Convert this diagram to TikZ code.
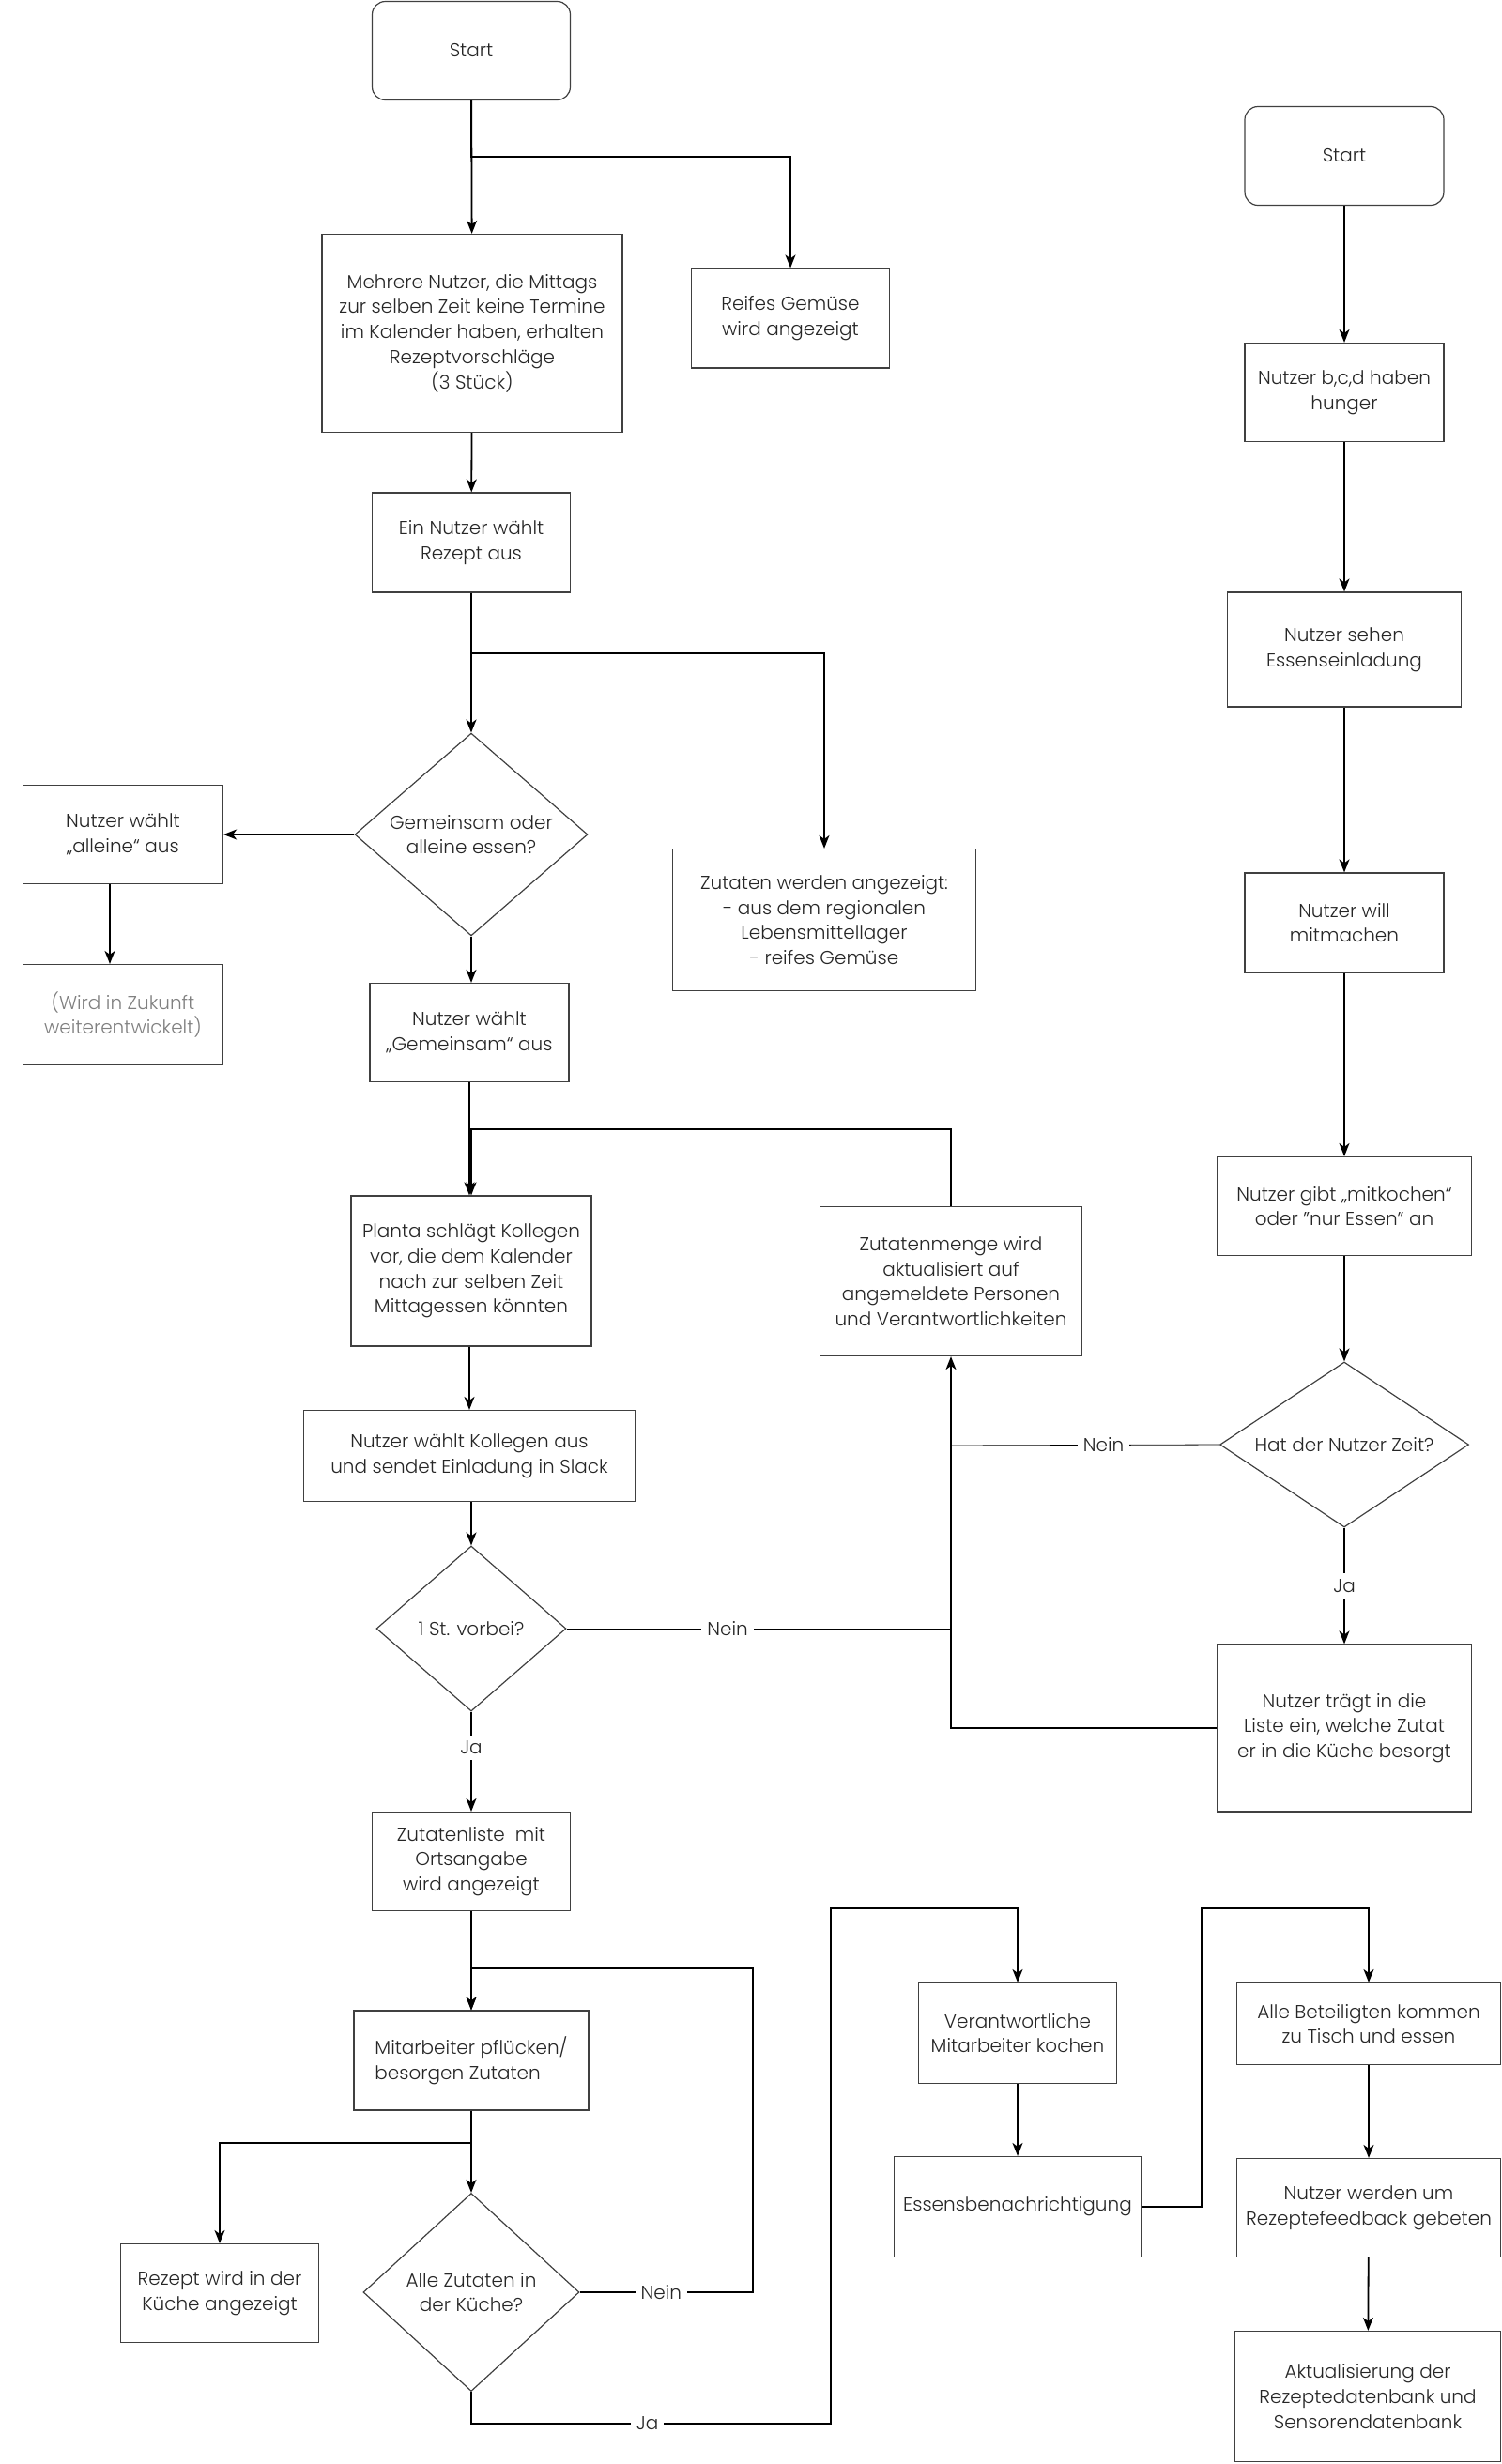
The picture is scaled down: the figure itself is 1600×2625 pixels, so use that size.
\documentclass[tikz,border=0pt]{standalone}
\usepackage{fontspec}
\IfFontExistsTF{Poppins Light}{\setmainfont{Poppins Light}}{\setmainfont{Poppins}}
\usetikzlibrary{shapes.geometric,arrows.meta}

\begin{document}
\begin{tikzpicture}[x=0.5pt,y=-0.5pt,
        font=\fontsize{10}{13.4}\selectfont, text=black!85,
        sz/.style 2 args={minimum width=#1*0.5pt, minimum height=#2*0.5pt},
        box/.style={draw=black!75, line width=0.6pt, align=center, inner sep=2pt},
        start/.style={box, rounded corners=7pt},
        decision/.style={diamond, draw=black!75, line width=0.6pt, align=center, inner sep=0pt},
        arr/.style={-{Stealth[length=7pt,width=5.5pt,inset=2pt]}, line width=0.9pt},
        lbl/.style={fill=white, inner sep=3pt, text=black!85}]
        \useasboundingbox (0,0) rectangle (1600,2625);

        \node[start, sz={211}{105}] (start1) at (502,54) {Start};
        \node[box, sz={320}{211}] (mehr) at (503,355) {Mehrere Nutzer, die Mittags\\zur selben Zeit keine Termine\\im Kalender haben, erhalten\\Rezeptvorschläge\\(3 Stück)};
        \node[box, sz={211}{106}] (reifes) at (842,339) {Reifes Gemüse\\wird angezeigt};
        \node[box, sz={211}{106}] (wahl) at (502,578) {Ein Nutzer wählt\\Rezept aus};
        \node[decision, sz={248}{213}] (gem) at (502,889) {Gemeinsam oder\\alleine essen?};
        \node[box, sz={323}{151}] (zutat) at (878,980) {Zutaten werden angezeigt:\\- aus dem regionalen\\Lebensmittellager\\- reifes Gemüse};
        \node[box, sz={213}{105}] (allein) at (131,889) {Nutzer wählt\\„alleine“ aus};
        \node[box, sz={213}{107}, text=black!50] (zukunft) at (131,1081) {(Wird in Zukunft\\weiterentwickelt)};
        \node[box, sz={212}{105}] (gemsel) at (500,1100) {Nutzer wählt\\„Gemeinsam“ aus};
        \node[box, sz={256}{160}] (planta) at (502,1354) {Planta schlägt Kollegen\\vor, die dem Kalender\\nach zur selben Zeit\\Mittagessen könnten};
        \node[box, sz={279}{159}] (menge) at (1013,1365) {Zutatenmenge wird\\aktualisiert auf\\angemeldete Personen\\und Verantwortlichkeiten};
        \node[box, sz={353}{97}] (kolleg) at (500,1551) {Nutzer wählt Kollegen aus\\und sendet Einladung in Slack};
        \node[decision, sz={202}{176}, shape aspect=1.15] (stunde) at (502,1735) {1 St. vorbei?};
        \node[box, sz={211}{105}] (liste) at (502,1983) {Zutatenliste~ mit\\Ortsangabe\\wird angezeigt};
        \node[box, sz={250}{106}, align=left] (pflueck) at (502,2195) {Mitarbeiter pflücken/\\besorgen Zutaten};
        \node[box, sz={211}{105}] (rezept) at (234,2443) {Rezept wird in der\\Küche angezeigt};
        \node[decision, sz={230}{211}] (alle) at (502,2442) {Alle Zutaten in\\der Küche?};
        \node[box, sz={211}{107}] (koch) at (1084,2166) {Verantwortliche\\Mitarbeiter kochen};
        \node[box, sz={263}{107}] (essen) at (1084,2351) {Essensbenachrichtigung};
        \node[box, sz={281}{87}] (tisch) at (1458,2156) {Alle Beteiligten kommen\\zu Tisch und essen};
        \node[box, sz={281}{105}] (feedback) at (1458,2352) {Nutzer werden um\\Rezeptefeedback gebeten};
        \node[box, sz={283}{139}] (daten) at (1457,2553) {Aktualisierung der\\Rezeptedatenbank und\\Sensorendatenbank};

        \node[start, sz={212}{105}] (start2) at (1432,166) {Start};
        \node[box, sz={212}{105}] (hunger) at (1432,418) {Nutzer b,c,d haben\\hunger};
        \node[box, sz={249}{122}] (einlad) at (1432,692) {Nutzer sehen\\Essenseinladung};
        \node[box, sz={212}{106}] (will) at (1432,983) {Nutzer will\\mitmachen};
        \node[box, sz={271}{105}] (gibt) at (1432,1285) {Nutzer gibt „mitkochen“\\oder "nur Essen" an};
        \node[decision, sz={265}{176}, shape aspect=1.5] (zeit) at (1432,1539) {Hat der Nutzer Zeit?};
        \node[box, sz={271}{178}] (traegt) at (1432,1841) {Nutzer trägt in die\\Liste ein, welche Zutat\\er in die Küche besorgt};

        \coordinate (k1) at (502,167);
        \coordinate (k2) at (502,696);
        \coordinate (k3) at (502,1203);
        \coordinate (k4) at (1012,1735);
        \coordinate (k5) at (1012,1540);
        \coordinate (k6) at (802,2442);
        \coordinate (k7) at (502,2097);
        \coordinate (k8) at (502,2283);
        \coordinate (k9) at (885,2582);
        \coordinate (k10) at (1084,2033);
        \coordinate (k11) at (1280,2351);
        \coordinate (k12) at (1458,2033);

        \draw[arr] (start1) -- (mehr);
        \draw[arr] (start1.south) -- (k1) -| (reifes.north);
        \draw[arr] (mehr) -- (wahl);
        \draw[arr] (wahl) -- (gem);
        \draw[arr] (wahl.south) -- (k2) -| (zutat.north);
        \draw[arr] (gem) -- (allein);
        \draw[arr] ([xshift=-7pt]allein.south) -- ([xshift=-7pt]zukunft.north);
        \draw[arr] (gem.south) -- (gem.south |- gemsel.north);
        \draw[arr] (gemsel) -- (gemsel |- planta.north);
        \draw[arr] (menge.north) |- (k3) -- (k3 |- planta.north);
        \draw[arr] (kolleg.north |- planta.south) -- (kolleg.north);
        \draw[arr] (stunde.north |- kolleg.south) -- (stunde.north);
        \draw (stunde.east) -- node[lbl, pos=0.42] {Nein} (k4);
        \draw[arr] (traegt.west) -| (menge.south);
        \draw (zeit.west) -- node[lbl, pos=0.43] {Nein} (k5);
        \draw[arr] (stunde) -- node[lbl, pos=0.36] {Ja} (liste);
        \draw[arr] (liste) -- (pflueck);
        \draw[arr] (alle.east) -- node[lbl, pos=0.47] {Nein} (k6) |- (k7) -- (pflueck.north);
        \draw[arr] (pflueck) -- (alle);
        \draw[arr] (pflueck.south) -- (k8) -| (rezept.north);
        \draw[arr] (alle.south) |- node[lbl, pos=0.745] {Ja} (k9) |- (k10) -- (koch.north);
        \draw[arr] (koch) -- (essen);
        \draw[arr] (essen.east) -- (k11) |- (k12) -- (tisch.north);
        \draw[arr] (tisch) -- (feedback);
        \draw[arr] (feedback) -- (daten);

        \draw[arr] (start2) -- (hunger);
        \draw[arr] (hunger) -- (einlad);
        \draw[arr] (einlad) -- (will);
        \draw[arr] (will) -- (gibt);
        \draw[arr] (gibt) -- (zeit);
        \draw[arr] (zeit) -- node[lbl] {Ja} (traegt);
    \end{tikzpicture}
\end{document}
